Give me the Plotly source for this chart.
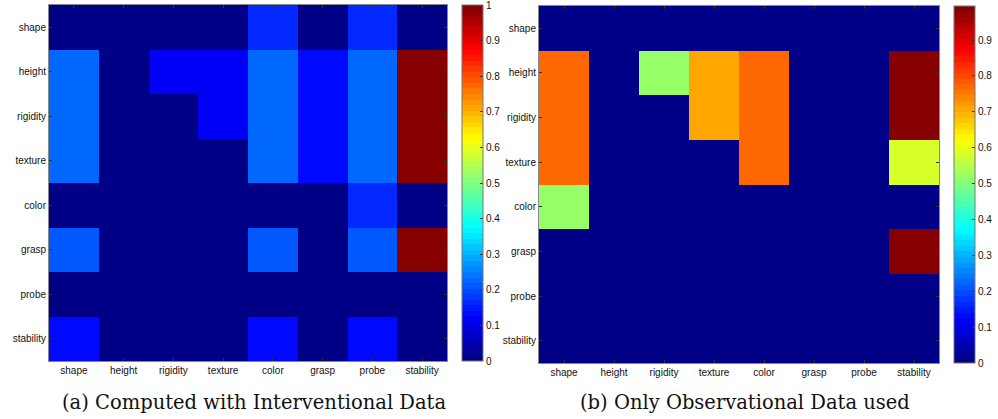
import plotly.graph_objects as go

labels = ["shape", "height", "rigidity", "texture", "color", "grasp", "probe", "stability"]

# Rows = labels (top to bottom), columns = labels (left to right)
interventional = [
    [0.00, 0, 0.00, 0.00, 0.17, 0.00, 0.16, 0.00],
    [0.22, 0, 0.12, 0.12, 0.22, 0.13, 0.22, 1.00],
    [0.22, 0, 0.00, 0.12, 0.22, 0.13, 0.22, 1.00],
    [0.22, 0, 0.00, 0.00, 0.22, 0.13, 0.22, 1.00],
    [0.00, 0, 0.00, 0.00, 0.00, 0.00, 0.16, 0.00],
    [0.21, 0, 0.00, 0.00, 0.21, 0.00, 0.21, 1.00],
    [0.00, 0, 0.00, 0.00, 0.00, 0.00, 0.00, 0.00],
    [0.14, 0, 0.00, 0.00, 0.14, 0.00, 0.14, 0.00],
]

observational = [
    [0.00, 0, 0.00, 0.00, 0.00, 0, 0, 0.00],
    [0.77, 0, 0.52, 0.70, 0.77, 0, 0, 0.99],
    [0.77, 0, 0.00, 0.70, 0.77, 0, 0, 0.99],
    [0.77, 0, 0.00, 0.00, 0.77, 0, 0, 0.59],
    [0.52, 0, 0.00, 0.00, 0.00, 0, 0, 0.00],
    [0.00, 0, 0.00, 0.00, 0.00, 0, 0, 0.99],
    [0.00, 0, 0.00, 0.00, 0.00, 0, 0, 0.00],
    [0.00, 0, 0.00, 0.00, 0.00, 0, 0, 0.00],
]

ticks_a = [0, 0.1, 0.2, 0.3, 0.4, 0.5, 0.6, 0.7, 0.8, 0.9, 1]
ticks_b = [0, 0.1, 0.2, 0.3, 0.4, 0.5, 0.6, 0.7, 0.8, 0.9]
captions = ["(a) Computed with Interventional Data", "(b) Only Observational Data used"]


def jet_rgb(t):
    def clip(v):
        return max(0.0, min(1.0, v))
    r = clip(min(4 * t - 1.5, -4 * t + 4.5))
    g = clip(min(4 * t - 0.5, -4 * t + 3.5))
    b = clip(min(4 * t + 0.5, -4 * t + 2.5))
    return r, g, b


# MATLAB-like discrete jet(64)
N = 64
jet = []
for i in range(N):
    t = (i + 0.5) / N
    r, g, b = jet_rgb(t)
    col = "rgb(%d,%d,%d)" % (round(r * 255), round(g * 255), round(b * 255))
    jet.append([i / N, col])
    jet.append([(i + 1) / N, col])

W, H = 998, 419


def px(x):
    return x / W


def py(y):
    return 1 - y / H


panels = [
    dict(z=interventional, x0=49, x1=447, y0=5, y1=361, cb=462, cby0=5, cby1=361,
         zmax=1.0005, ticks=ticks_a),
    dict(z=observational, x0=539, x1=939, y0=6, y1=363, cb=954, cby0=6, cby1=363,
         zmax=0.995, ticks=ticks_b),
]

fig = go.Figure()
font_axis = dict(family="Liberation Sans, Arial, sans-serif", size=10, color="#111")

for i, p in enumerate(panels):
    sfx = "" if i == 0 else "2"
    fig.add_trace(go.Heatmap(
        z=p["z"], x=labels, y=labels,
        colorscale=jet, zmin=0, zmax=p["zmax"],
        xaxis="x" + sfx, yaxis="y" + sfx,
        colorbar=dict(
            x=px(p["cb"]), xanchor="left", xpad=0,
            y=py((p["cby0"] + p["cby1"]) / 2), yanchor="middle", ypad=0,
            lenmode="pixels", len=p["cby1"] - p["cby0"],
            thicknessmode="pixels", thickness=21,
            outlinewidth=1, outlinecolor="#777",
            tickvals=p["ticks"], ticktext=[("%g" % v) for v in p["ticks"]],
            ticks="inside", ticklen=3, tickcolor="#333",
            ticklabeloverflow="allow",
            tickfont=font_axis,
        ),
        hoverongaps=False,
    ))
    axis_common = dict(
        showgrid=False, zeroline=False, showline=True, linecolor="#888", linewidth=1,
        mirror="ticks", ticks="inside", ticklen=3, tickcolor="#333",
        tickfont=font_axis,
    )
    fig.layout["xaxis" + sfx] = dict(
        domain=[px(p["x0"]), px(p["x1"])], anchor="y" + sfx,
        **axis_common,
    )
    fig.layout["yaxis" + sfx] = dict(
        domain=[py(p["y1"]), py(p["y0"])], anchor="x" + sfx,
        autorange="reversed", **axis_common,
    )

cap_font = dict(family="DejaVu Serif, Liberation Serif, serif", size=19.5, color="#111")
fig.add_annotation(text=captions[0], x=px(254), y=py(402), xref="paper", yref="paper",
                   showarrow=False, xanchor="center", yanchor="middle", font=cap_font)
fig.add_annotation(text=captions[1], x=px(745), y=py(402), xref="paper", yref="paper",
                   showarrow=False, xanchor="center", yanchor="middle", font=cap_font)

fig.update_layout(
    width=W, height=H,
    margin=dict(l=0, r=0, t=0, b=0),
    paper_bgcolor="white", plot_bgcolor="white",
    showlegend=False,
)

fig.write_html("out.html")
